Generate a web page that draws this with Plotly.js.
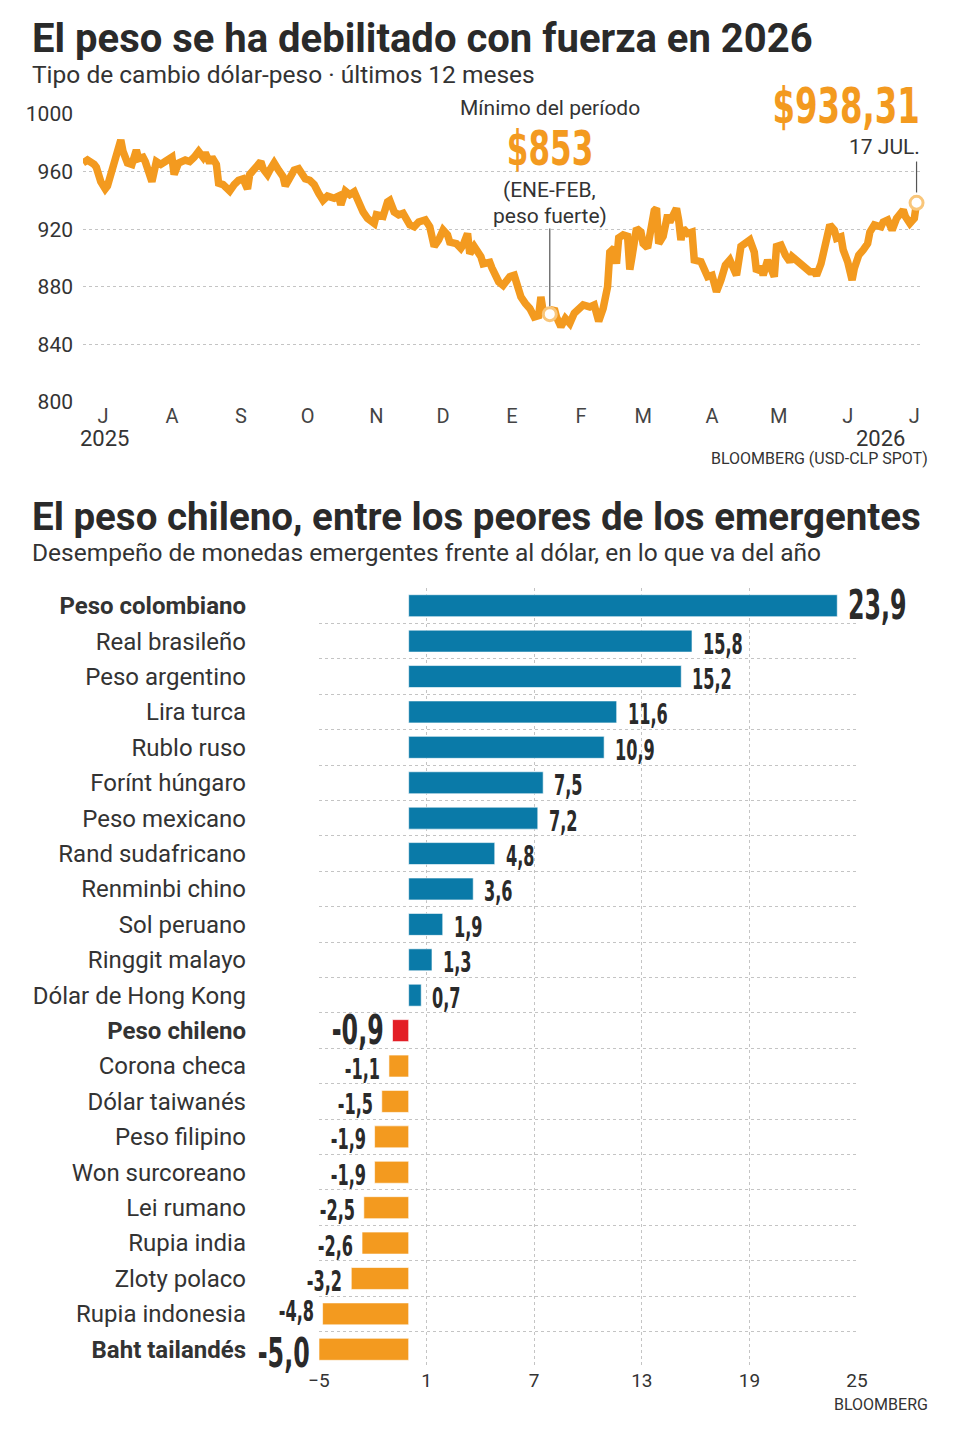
<!DOCTYPE html>
<html>
<head>
<meta charset="utf-8">
<script src="https://cdn.plot.ly/plotly-3.0.1.min.js"></script>
<style>
  html, body { margin: 0; padding: 0; background: #ffffff; }
  #chart { width: 955px; height: 1440px; }
</style>
</head>
<body>
<div id="chart"></div>
<script>
// ---------- DATA: USD-CLP exchange rate (last 12 months) ----------
const dates = [
'2025-07-07','2025-07-09','2025-07-12','2025-07-13','2025-07-15','2025-07-17','2025-07-18','2025-07-20','2025-07-21','2025-07-23','2025-07-24','2025-07-25','2025-07-27','2025-07-29','2025-07-31',
'2025-08-01','2025-08-03','2025-08-04','2025-08-06','2025-08-07','2025-08-09','2025-08-11','2025-08-13','2025-08-16','2025-08-17','2025-08-19','2025-08-22','2025-08-24','2025-08-26','2025-08-28','2025-08-30','2025-08-31',
'2025-09-02','2025-09-03','2025-09-05','2025-09-06','2025-09-08','2025-09-09','2025-09-11','2025-09-13','2025-09-15','2025-09-17','2025-09-19','2025-09-20','2025-09-22','2025-09-25','2025-09-26','2025-09-28','2025-09-29',
'2025-10-01','2025-10-03','2025-10-05','2025-10-06','2025-10-08','2025-10-10','2025-10-12','2025-10-13','2025-10-15','2025-10-17','2025-10-19','2025-10-21','2025-10-23','2025-10-25','2025-10-28','2025-10-30','2025-10-31',
'2025-11-02','2025-11-04','2025-11-06','2025-11-08','2025-11-10','2025-11-12','2025-11-15','2025-11-16','2025-11-19','2025-11-21','2025-11-22','2025-11-24','2025-11-26','2025-11-28',
'2025-12-01','2025-12-03','2025-12-05','2025-12-08','2025-12-10','2025-12-12','2025-12-14','2025-12-16','2025-12-18','2025-12-19','2025-12-22','2025-12-24','2025-12-25','2025-12-27','2025-12-28','2025-12-30','2025-12-31',
'2026-01-02','2026-01-03','2026-01-06','2026-01-07','2026-01-09','2026-01-10','2026-01-12','2026-01-15','2026-01-17','2026-01-18','2026-01-20','2026-01-22','2026-01-24','2026-01-26','2026-01-28','2026-01-29','2026-01-30',
'2026-02-02','2026-02-04','2026-02-05','2026-02-07','2026-02-09','2026-02-11','2026-02-13','2026-02-15','2026-02-17','2026-02-20','2026-02-22','2026-02-24','2026-02-26','2026-02-28',
'2026-03-01','2026-03-03','2026-03-04','2026-03-05','2026-03-07','2026-03-09','2026-03-10','2026-03-11','2026-03-12','2026-03-13','2026-03-15','2026-03-16','2026-03-18','2026-03-19','2026-03-21','2026-03-22','2026-03-23','2026-03-25','2026-03-27','2026-03-28','2026-03-30','2026-03-31',
'2026-04-01','2026-04-02','2026-04-03','2026-04-05','2026-04-07','2026-04-08','2026-04-11','2026-04-12','2026-04-14','2026-04-16','2026-04-18','2026-04-20','2026-04-22','2026-04-24','2026-04-26','2026-04-27','2026-04-29',
'2026-05-01','2026-05-03','2026-05-05','2026-05-06','2026-05-08','2026-05-09','2026-05-11','2026-05-12','2026-05-14','2026-05-15','2026-05-17','2026-05-19','2026-05-21','2026-05-22','2026-05-24','2026-05-26','2026-05-28','2026-05-30',
'2026-06-01','2026-06-02','2026-06-04','2026-06-06','2026-06-08','2026-06-10','2026-06-11','2026-06-13','2026-06-14','2026-06-16','2026-06-17','2026-06-18','2026-06-19','2026-06-21','2026-06-23','2026-06-25','2026-06-26','2026-06-28',
'2026-07-01','2026-07-02','2026-07-04','2026-07-06','2026-07-08','2026-07-10','2026-07-11','2026-07-12','2026-07-14','2026-07-16','2026-07-17'
];
const rates = [
966,968,965,963,953,948,950,962,969,978,982,974,966,965,975,
969,970,967,955,953,967,965,967,970,958,966,968,967,970,974,970,973,
966,970,965,952,951,950,946.5,951,954,955,948,958,961,967,962,958,961,
966,961,956.5,950,955,961,962,960,955,954,951,945,940,943,941.5,943,937,
946.5,944,946,938,932,927.5,924,930,929,939,940,932,930,931,
923,921.7,925,926.4,921.7,908,912.5,919.4,916,911,910,906.7,909,917,903,908,905.6,
901,896,897,893,885,883.5,881,887,888,881,873,868.5,865,859,860,873,863,
861,865,859,852.3,858,854.6,861.6,865,867.4,866,867.4,856,865,880,
904,907,896,914,916,915,892,901,917,920.6,918,910,907,919,933,934.5,910,915,930,925,932,934.5,
926,912.5,920.6,917,918,898.6,897.4,894,887,888,876.6,884.7,895,898.6,891.7,888,908,
910,912.5,904,890.5,894,888,898.6,894,887,908,909,902,897.4,901,898.6,895,892.8,890.5,
890.5,888,896,910,923,919.4,913.7,914.8,905.6,897.4,887,884.7,892.8,902,905.6,910,918,923,
921.7,925,926.4,919.4,927.5,931,933.3,928.7,924,927.5,938.31
];
const monthTickDates = ['2025-07-16','2025-08-16','2025-09-16','2025-10-16','2025-11-16','2025-12-16','2026-01-16','2026-02-16','2026-03-16','2026-04-16','2026-05-16','2026-06-16','2026-07-16'];
const monthTickLabels = ['J','A','S','O','N','D','E','F','M','A','M','J','J'];
const rateTicks = [800, 840, 880, 920, 960, 1000];
const minPointDate = '2026-02-02';
const minPointValue = 861;
const minLabel = '$853';
const lastDate = '2026-07-17';
const lastValue = 938.31;
const lastLabel = '$938,31';

// ---------- DATA: emerging currencies YTD vs dollar ----------
const currencies = ['Peso colombiano','Real brasileño','Peso argentino','Lira turca','Rublo ruso','Forínt húngaro','Peso mexicano','Rand sudafricano','Renminbi chino','Sol peruano','Ringgit malayo','Dólar de Hong Kong','Peso chileno','Corona checa','Dólar taiwanés','Peso filipino','Won surcoreano','Lei rumano','Rupia india','Zloty polaco','Rupia indonesia','Baht tailandés'];
const changes = [23.9,15.8,15.2,11.6,10.9,7.5,7.2,4.8,3.6,1.9,1.3,0.7,-0.9,-1.1,-1.5,-1.9,-1.9,-2.5,-2.6,-3.2,-4.8,-5.0];
const highlighted = ['Peso colombiano','Peso chileno','Baht tailandés'];
const focusCurrency = 'Peso chileno';
const changeTicks = [-5, 1, 7, 13, 19, 25];

// ---------- STYLE ----------
const W = 955, H = 1440;
const px = x => x / W;
const py = y => 1 - y / H;
const TXT = 'Roboto, "Open Sans", sans-serif';
const COND = '"DejaVu Sans Condensed", "Liberation Sans Narrow", sans-serif';
const ORANGE = '#f39a1f';
const BLUE = '#0a7aa8';
const RED = '#e31e26';
const DARK = '#2a2a2a';
const GRID = '#c4c4c4';

const fmt = v => v.toFixed(1).replace('.', ',');

const barColors = currencies.map((c, i) => c === focusCurrency ? RED : (changes[i] >= 0 ? BLUE : ORANGE));

const traces = [
  {
    type: 'scatter', mode: 'lines', x: dates, y: rates,
    xaxis: 'x', yaxis: 'y',
    line: { color: ORANGE, width: 7.5, shape: 'linear' },
    hoverinfo: 'skip'
  },
  {
    type: 'scatter', mode: 'markers', x: [minPointDate, lastDate], y: [minPointValue, lastValue],
    xaxis: 'x', yaxis: 'y',
    marker: { size: 13, color: '#ffffff', line: { color: '#f9c67a', width: 3 } },
    cliponaxis: false, hoverinfo: 'skip'
  },
  {
    type: 'bar', orientation: 'h', x: changes, y: currencies,
    xaxis: 'x2', yaxis: 'y2', width: 0.62,
    marker: { color: barColors, line: { color: 'rgba(255,255,255,0.6)', width: 1 } },
    hoverinfo: 'skip'
  }
];

// condensed labels: [annotation index, scaleX, anchor side]
const condensed = [];

const annotations = [
  { xref: 'paper', yref: 'paper', x: px(30), y: py(38), xanchor: 'left', yanchor: 'middle', showarrow: false,
    text: '<b>El peso se ha debilitado con fuerza en 2026</b>', font: { family: TXT, size: 40, color: DARK } },
  { xref: 'paper', yref: 'paper', x: px(30), y: py(74), xanchor: 'left', yanchor: 'middle', showarrow: false,
    text: 'Tipo de cambio dólar-peso · últimos 12 meses', font: { family: TXT, size: 24.5, color: '#333' } },
  { xref: 'paper', yref: 'paper', x: px(30), y: py(517), xanchor: 'left', yanchor: 'middle', showarrow: false,
    text: '<b>El peso chileno, entre los peores de los emergentes</b>', font: { family: TXT, size: 38.5, color: DARK } },
  { xref: 'paper', yref: 'paper', x: px(30), y: py(552), xanchor: 'left', yanchor: 'middle', showarrow: false,
    text: 'Desempeño de monedas emergentes frente al dólar, en lo que va del año', font: { family: TXT, size: 24.5, color: '#333' } },
  // line chart notes
  { xref: 'x', yref: 'paper', x: minPointDate, y: py(108), xanchor: 'center', yanchor: 'middle', showarrow: false,
    text: 'Mínimo del período', font: { family: TXT, size: 21, color: '#333' } },
  { xref: 'x', yref: 'paper', x: minPointDate, y: py(190), xanchor: 'center', yanchor: 'middle', showarrow: false,
    text: '(ENE-FEB,', font: { family: TXT, size: 21, color: '#333' } },
  { xref: 'x', yref: 'paper', x: minPointDate, y: py(216), xanchor: 'center', yanchor: 'middle', showarrow: false,
    text: 'peso fuerte)', font: { family: TXT, size: 21, color: '#333' } },
  { xref: 'paper', yref: 'paper', x: px(922), y: py(147), xanchor: 'right', yanchor: 'middle', showarrow: false,
    text: '17 JUL.', font: { family: TXT, size: 21, color: '#333' } },
  { xref: 'paper', yref: 'paper', x: px(104), y: py(438), xanchor: 'center', yanchor: 'middle', showarrow: false,
    text: '2025', font: { family: TXT, size: 22, color: '#333' } },
  { xref: 'paper', yref: 'paper', x: px(907), y: py(438), xanchor: 'right', yanchor: 'middle', showarrow: false,
    text: '2026', font: { family: TXT, size: 22, color: '#333' } },
  { xref: 'paper', yref: 'paper', x: px(930), y: py(459), xanchor: 'right', yanchor: 'middle', showarrow: false,
    text: 'BLOOMBERG (USD-CLP SPOT)', font: { family: TXT, size: 16, color: '#333' } },
  { xref: 'paper', yref: 'paper', x: px(930), y: py(1404), xanchor: 'right', yanchor: 'middle', showarrow: false,
    text: 'BLOOMBERG', font: { family: TXT, size: 16, color: '#333' } }
];

condensed.push([annotations.length, 0.72, 'center']);
annotations.push({ xref: 'x', yref: 'paper', x: minPointDate, y: py(148), xanchor: 'center', yanchor: 'middle', showarrow: false,
  text: '<b>' + minLabel + '</b>', font: { family: COND, size: 48, color: ORANGE } });
condensed.push([annotations.length, 0.72, 'right']);
annotations.push({ xref: 'paper', yref: 'paper', x: px(922), y: py(106), xanchor: 'right', yanchor: 'middle', showarrow: false,
  text: '<b>' + lastLabel + '</b>', font: { family: COND, size: 50, color: ORANGE } });

// bar value labels
const lastIdx = currencies.length - 1;
currencies.forEach((c, i) => {
  const v = changes[i];
  const big = highlighted.includes(c);
  let dy = big ? 1 : -3;
  if (i === lastIdx) dy = -4;
  if (i === lastIdx - 1) dy = 2;
  condensed.push([annotations.length, big ? 0.66 : 0.64, v >= 0 ? 'left' : 'right']);
  annotations.push({
    xref: 'x2', yref: 'y2', x: v, y: c,
    xanchor: v >= 0 ? 'left' : 'right', yanchor: 'middle',
    xshift: v >= 0 ? 9 : -7, yshift: dy,
    showarrow: false,
    text: '<b>' + fmt(v) + '</b>',
    font: { family: COND, size: big ? 40 : 28, color: DARK }
  });
});

const shapes = [
  { type: 'line', xref: 'x', yref: 'y', x0: minPointDate, x1: minPointDate, y0: 866.5, y1: 920.5,
    line: { color: '#555', width: 1.2 } },
  { type: 'line', xref: 'x', yref: 'y', x0: lastDate, x1: lastDate, y0: 945.5, y1: 967,
    line: { color: '#555', width: 1.2 } }
];

const layout = {
  width: W, height: H,
  margin: { l: 0, r: 0, t: 0, b: 0 },
  paper_bgcolor: '#ffffff', plot_bgcolor: 'rgba(0,0,0,0)',
  showlegend: false,
  font: { family: TXT, color: '#333' },
  xaxis: {
    domain: [px(83), px(921)], anchor: 'y', type: 'date',
    range: ['2025-07-07', '2026-07-19'],
    tickmode: 'array', tickvals: monthTickDates, ticktext: monthTickLabels,
    showgrid: false, zeroline: false, showline: false, ticks: '',
    tickfont: { family: TXT, size: 20, color: '#444' }, fixedrange: true
  },
  yaxis: {
    domain: [py(402), py(114)], anchor: 'x',
    range: [800, 1000], tickmode: 'array', tickvals: rateTicks,
    showgrid: true, gridcolor: GRID, griddash: 'dot', gridwidth: 1,
    zeroline: false, showline: false, ticks: '', ticklabelstandoff: 9,
    tickfont: { family: TXT, size: 21, color: '#333' }, fixedrange: true
  },
  xaxis2: {
    domain: [px(319), px(857)], anchor: 'y2',
    range: [-5, 25], tickmode: 'array', tickvals: changeTicks,
    showgrid: true, gridcolor: GRID, griddash: 'dot', gridwidth: 1,
    zeroline: false, showline: false, ticks: '',
    tickfont: { family: TXT, size: 19, color: '#333' }, fixedrange: true
  },
  yaxis2: {
    domain: [py(1367), py(588)], anchor: 'x2', type: 'category',
    categoryorder: 'array', categoryarray: currencies,
    range: [currencies.length - 0.5, -0.5], autorange: false, tickson: 'boundaries',
    tickmode: 'array', tickvals: currencies,
    ticktext: currencies.map(c => highlighted.includes(c) ? '<b>' + c + '</b>' : c),
    showgrid: true, gridcolor: GRID, griddash: 'dot', gridwidth: 1,
    zeroline: false, showline: false, ticks: '', ticklabelstandoff: 72,
    tickfont: { family: TXT, size: 24, color: '#333' }, fixedrange: true
  },
  annotations: annotations,
  shapes: shapes
};

Plotly.newPlot('chart', traces, layout, { staticPlot: true, displayModeBar: false }).then(gd => {
  condensed.forEach(([idx, s, anchor]) => {
    const g = gd.querySelector('g.annotation[data-index="' + idx + '"]');
    if (!g) return;
    const t = g.querySelector('text.annotation-text');
    if (!t) return;
    const bb = t.getBBox();
    const ox = anchor === 'left' ? bb.x : (anchor === 'right' ? bb.x + bb.width : bb.x + bb.width / 2);
    const prev = t.getAttribute('transform') || '';
    t.setAttribute('transform', prev + ' translate(' + ox + ',0) scale(' + s + ',1) translate(' + (-ox) + ',0)');
  });
});
</script>
</body>
</html>
